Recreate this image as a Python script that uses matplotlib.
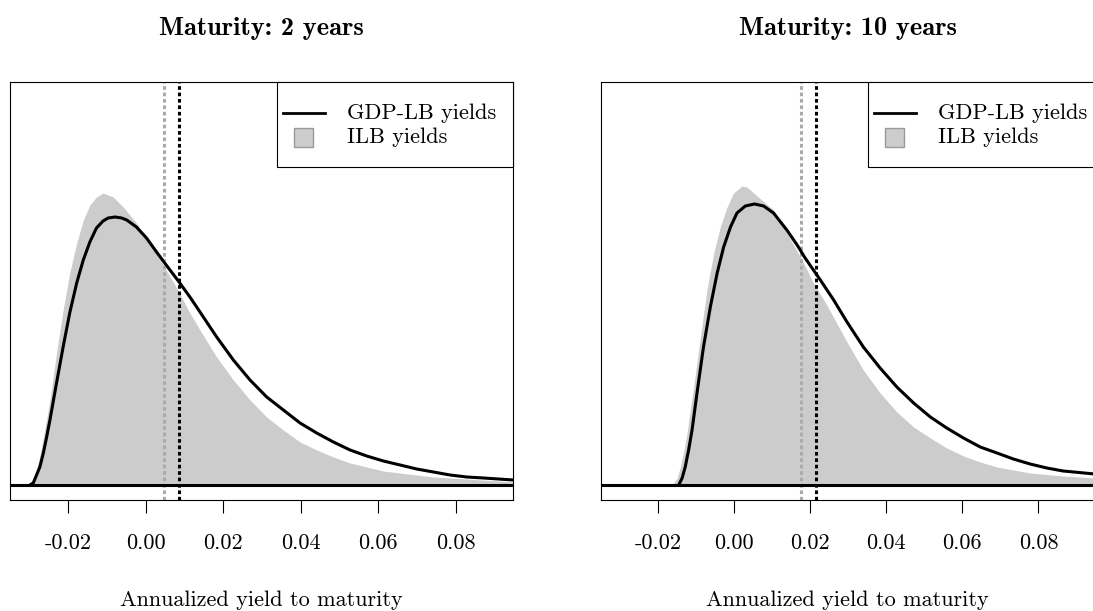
import matplotlib
matplotlib.use("Agg")
import matplotlib.pyplot as plt
from matplotlib.patches import Rectangle

plt.rcParams.update({
    "font.family": "cmr10",
    "font.size": 16,
    "axes.formatter.use_mathtext": True,
    "axes.unicode_minus": False,
})

# yield grid (annualized) and densities, 2-year maturity
GDP2_X = [-0.0299, -0.0290, -0.0273, -0.0264, -0.0256, -0.0247, -0.0230, -0.0213, -0.0196, -0.0178,
          -0.0161, -0.0144, -0.0127, -0.0110, -0.0097, -0.0079, -0.0062, -0.0049, -0.0024, 0.0002,
          0.0028, 0.0047, 0.0086, 0.0114, 0.0140, 0.0183, 0.0226, 0.0269, 0.0312, 0.0355,
          0.0398, 0.0441, 0.0484, 0.0527, 0.0570, 0.0613, 0.0656, 0.0699, 0.0742, 0.0785,
          0.0828, 0.0871, 0.0948]
GDP2_DENS = [0.0, 0.2, 1.8, 3.2, 4.7, 6.5, 10.2, 13.8, 17.2, 20.2,
             22.5, 24.3, 25.7, 26.4, 26.7, 26.8, 26.7, 26.5, 25.8, 24.7,
             23.3, 22.3, 20.3, 18.8, 17.3, 14.8, 12.5, 10.5, 8.8, 7.5,
             6.2, 5.2, 4.3, 3.5, 2.9, 2.4, 2.0, 1.6, 1.3, 1.0,
             0.8, 0.7, 0.5]

ILB2_X = [-0.0303, -0.0294, -0.0286, -0.0277, -0.0269, -0.0256, -0.0247, -0.0230, -0.0213, -0.0196,
          -0.0178, -0.0161, -0.0144, -0.0127, -0.0110, -0.0084, -0.0058, -0.0024, 0.0011, 0.0045,
          0.0080, 0.0114, 0.0140, 0.0183, 0.0226, 0.0269, 0.0312, 0.0355, 0.0398, 0.0441,
          0.0484, 0.0527, 0.0570, 0.0613, 0.0656, 0.0742, 0.0828, 0.0948]
ILB2_DENS = [0.0, 0.3, 1.0, 2.2, 3.7, 6.5, 8.5, 13.2, 17.5, 21.2,
             24.2, 26.5, 28.0, 28.8, 29.2, 28.8, 27.8, 26.2, 24.2, 22.0,
             19.7, 17.2, 15.5, 12.8, 10.5, 8.5, 6.8, 5.5, 4.3, 3.5,
             2.8, 2.2, 1.8, 1.4, 1.2, 0.8, 0.6, 0.3]

# 10-year maturity
GDP10_X = [-0.0145, -0.0136, -0.0128, -0.0119, -0.0110, -0.0097, -0.0080, -0.0062, -0.0044, -0.0027,
           -0.0009, 0.0008, 0.0030, 0.0054, 0.0078, 0.0104, 0.0139, 0.0166, 0.0187, 0.0227,
           0.0262, 0.0297, 0.0340, 0.0384, 0.0428, 0.0472, 0.0516, 0.0559, 0.0603, 0.0647,
           0.0691, 0.0734, 0.0778, 0.0822, 0.0865, 0.0948]
GDP10_DENS = [0.0, 0.7, 1.8, 3.5, 5.5, 9.2, 13.8, 17.8, 21.2, 23.8,
              25.8, 27.2, 27.9, 28.1, 27.9, 27.2, 25.5, 24.0, 22.7, 20.5,
              18.5, 16.3, 13.8, 11.7, 9.8, 8.2, 6.8, 5.7, 4.7, 3.8,
              3.2, 2.6, 2.1, 1.7, 1.4, 1.1]

ILB10_X = [-0.0163, -0.0149, -0.0141, -0.0132, -0.0123, -0.0106, -0.0088, -0.0071, -0.0053, -0.0036,
           -0.0018, -0.0001, 0.0021, 0.0034, 0.0061, 0.0104, 0.0130, 0.0157, 0.0183, 0.0209,
           0.0244, 0.0297, 0.0340, 0.0384, 0.0428, 0.0472, 0.0516, 0.0559, 0.0603, 0.0647,
           0.0691, 0.0778, 0.0865, 0.0948]
ILB10_DENS = [0.0, 0.7, 1.8, 3.3, 5.2, 9.8, 14.8, 19.5, 23.2, 25.8,
              27.8, 29.2, 29.9, 29.8, 28.9, 27.5, 25.8, 24.0, 22.2, 20.2,
              18.0, 14.3, 11.5, 9.2, 7.3, 5.8, 4.7, 3.7, 2.9, 2.3,
              1.8, 1.2, 0.9, 0.7]

# average yields (dotted verticals)
ILB_AVG = [0.0046, 0.0176]
GDP_AVG = [0.0085, 0.0215]

TITLES = ["Maturity: 2 years", "Maturity: 10 years"]
XTICKS = [-0.02, 0.00, 0.02, 0.04, 0.06, 0.08]
XTICK_LABELS = ["-0.02", "0.00", "0.02", "0.04", "0.06", "0.08"]
LEGEND_LABELS = ["GDP-LB yields", "ILB yields"]

FILL_COLOR = "#cccccc"
AVG_GRAY = "#aaaaaa"
W, H = 1093, 611


def draw_legend(ax, ax_w, ax_h):
    """R-style legend box glued to the top-right corner."""
    px = lambda x: x / ax_w
    py = lambda y: 1 - y / ax_h
    box = Rectangle((px(267), py(85)), 1 - px(267), 1 - py(85), transform=ax.transAxes,
                    facecolor="white", edgecolor="black", linewidth=0.8, zorder=5, clip_on=False)
    ax.add_patch(box)
    ax.plot([px(273), px(315)], [py(31), py(31)], transform=ax.transAxes,
            color="black", linewidth=2.0, zorder=6, clip_on=False)
    sq = Rectangle((px(284), py(65)), px(19), 19 / ax_h, transform=ax.transAxes,
                   facecolor=FILL_COLOR, edgecolor="#999999", linewidth=1.0, zorder=6, clip_on=False)
    ax.add_patch(sq)
    ax.text(px(337), py(31), LEGEND_LABELS[0], transform=ax.transAxes, va="center", ha="left",
            zorder=7, clip_on=False)
    ax.text(px(337), py(55), LEGEND_LABELS[1], transform=ax.transAxes, va="center", ha="left",
            zorder=7, clip_on=False)


fig = plt.figure(figsize=(W / 100, H / 100), dpi=100)
fig.patch.set_facecolor("white")

panels = [
    (10, 503.3, ILB2_X, ILB2_DENS, GDP2_X, GDP2_DENS, ILB_AVG[0], GDP_AVG[0]),
    (600.7, 494.1, ILB10_X, ILB10_DENS, GDP10_X, GDP10_DENS, ILB_AVG[1], GDP_AVG[1]),
]
ax_top, ax_bot = 82, 500

for i, (left, width, ix, idens, gx, gdens, iavg, gavg) in enumerate(panels):
    ax = fig.add_axes([left / W, (H - ax_bot) / H, width / W, (ax_bot - ax_top) / H])
    ax.fill_between(ix, 0, idens, color=FILL_COLOR, linewidth=0, zorder=1)
    ax.axvline(iavg, color=AVG_GRAY, linewidth=2.2, linestyle=(0, (1.2, 0.9)), zorder=2)
    ax.axvline(gavg, color="black", linewidth=2.2, linestyle=(0, (1.2, 0.9)), zorder=2)
    ax.plot(gx, gdens, color="black", linewidth=2.2, zorder=3,
            solid_capstyle="butt", solid_joinstyle="round")
    ax.axhline(0, color="black", linewidth=2.2, zorder=3)

    ax.set_xlim(-0.035, 0.0948)
    ax.set_ylim(-1.5, 40.3)
    ax.set_yticks([])
    ax.set_xticks(XTICKS)
    ax.set_xticklabels(XTICK_LABELS)
    ax.tick_params(axis="x", length=9.4, width=0.8, pad=15)
    for sp in ax.spines.values():
        sp.set_linewidth(0.8)
    ax.set_xlabel("Annualized yield to maturity", labelpad=27)
    ax.set_title(TITLES[i], fontfamily="cmb10", fontsize=19, pad=34)

    draw_legend(ax, width, ax_bot - ax_top)

fig.savefig("out.png", dpi=100, facecolor="white")
